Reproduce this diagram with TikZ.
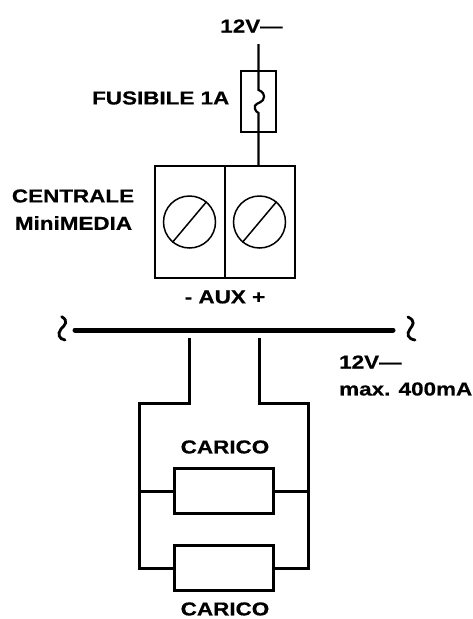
\documentclass[tikz,border=0pt]{standalone}
\usepackage{fontspec}
\setmainfont[FakeStretch=1.2,FakeBold=0.6]{Liberation Sans Bold}
\tikzset{
 wire/.style={line width=2.2pt,line join=miter},
 loadwire/.style={line width=3pt,line join=miter},
 thin wire/.style={line width=1.5pt},
 fusebox/.style={draw,line width=2.6pt,minimum width=35pt,minimum height=61pt,inner sep=0pt},
 termbox/.style={draw,line width=1.5pt,minimum width=70pt,minimum height=112pt,inner sep=0pt},
 screw/.style={draw,circle,line width=1.5pt,minimum size=52pt,inner sep=0pt},
 loadbox/.style={draw,line width=2.8pt,minimum width=99pt,minimum height=45pt,inner sep=0pt},
 lab/.style={font=\fontsize{18.7}{21}\selectfont,inner sep=0pt,text=black},
 tilde/.style={line width=2.8pt,line cap=round}
}
\begin{document}
\begin{tikzpicture}[x=1pt,y=-1pt]
\useasboundingbox (0,0) rectangle (473,619);
% labels
\node[lab] (v1) at (251.5,26) {12V—};
\node[lab,anchor=east] (fus) at (229.5,98) {FUSIBILE 1A};
\node[lab] (cen) at (73,196) {CENTRALE};
\node[lab] (min) at (73.5,223) {MiniMEDIA};
\node[lab] (aux) at (225,297) {- AUX +};
\node[lab,anchor=west] (v2) at (339,362) {12V—};
\node[lab,anchor=west] (max) at (339,389) {max. 400mA};
\node[lab] (c1) at (225,447) {CARICO};
\node[lab] (c2) at (225,609) {CARICO};
% fuse
\node[fusebox] (fuse) at (258.5,101.5) {};
\coordinate (wtop) at (258.5,44);
\node[termbox] (tl) at (190,222) {};
\node[termbox] (tr) at (260,222) {};
\coordinate (wbot) at (258.5,166);
\coordinate (sqa) at (258.5,90);
\coordinate (sqb) at (258.5,113);
\draw[wire] (wtop) -- (sqa) .. controls (262,91) and (266,95) .. (263,100) .. controls (260,104) and (253,103) .. (255,109) .. controls (255.5,111) and (257,112) .. (sqb) -- (wbot);
% screws
\node[screw] (s1) at (189.5,222) {};
\node[screw] (s2) at (259.5,222) {};
\draw[thin wire] (s1.230) -- (s1.50);
\draw[thin wire] (s2.230) -- (s2.50);
% bus
\coordinate (busl) at (75,330);
\coordinate (busr) at (393,330);
\draw[line width=5pt,line cap=round] (busl) -- (busr);
\coordinate (tla) at (61.7,316.7);\coordinate (tlb) at (65,340);
\draw[tilde] (tla) .. controls (69,321) and (65,325) .. (61,329) .. controls (57,334) and (59,339) .. (tlb);
\coordinate (tra) at (408,317);\coordinate (trb) at (415,340);
\draw[tilde] (tra) .. controls (416,321) and (413,325) .. (410,329) .. controls (406,334) and (408,339) .. (trb);
% loads
\node[loadbox] (r1) at (224,491) {};
\node[loadbox] (r2) at (224,568) {};
\coordinate (la) at (189,338);
\coordinate (ra) at (259,338);
\draw[loadwire] (la) |- (139.5,403) -- (139.5,568) -- (r2.west);
\draw[loadwire] (ra) |- (308.5,403) -- (308.5,568) -- (r2.east);
\draw[loadwire] (139.5,491) -- (r1.west);
\draw[loadwire] (308.5,491) -- (r1.east);
\end{tikzpicture}
\end{document}
